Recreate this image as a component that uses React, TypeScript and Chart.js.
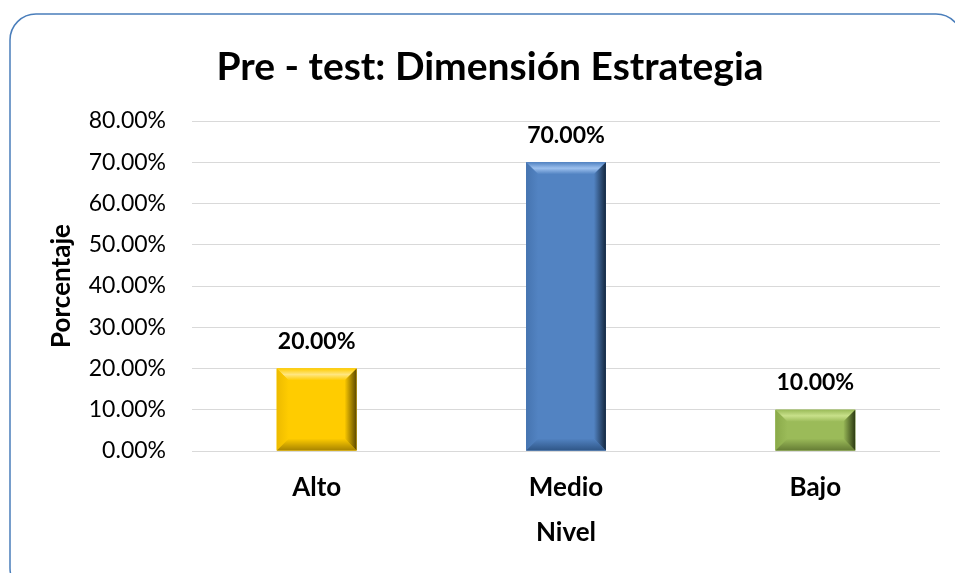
import React, { useEffect, useRef } from "react";
import { Chart, registerables } from "chart.js";

Chart.register(...registerables);

const categories = ["Alto", "Medio", "Bajo"];
const values = [20, 70, 10];
const valueLabels = ["20.00%", "70.00%", "10.00%"];
const chartTitle = "Pre - test: Dimensión Estrategia";
const xTitle = "Nivel";
const yTitle = "Porcentaje";

// face, top bevel, left bevel, right bevel dark, bottom bevel dark
const palettes = [
  { face: "#FFCC00", top: "#FFE680", left: "#EDBB00", right: "#5C4800", bottom: "#A88400" },
  { face: "#5283C2", top: "#9CC0EE", left: "#4674B0", right: "#14273F", bottom: "#2F5687" },
  { face: "#9BBB59", top: "#C8E08A", left: "#8AAA4A", right: "#2C3A12", bottom: "#667D35" },
];

const FONT = "Lato, 'Open Sans', sans-serif";

const framePlugin = {
  id: "frame",
  beforeDraw(chart: any) {
    const ctx = chart.ctx;
    ctx.save();
    ctx.strokeStyle = "#4A7EBB";
    ctx.lineWidth = 1.5;
    const x = 10, y = 14, w = 952, h = 580, r = 26;
    ctx.beginPath();
    ctx.moveTo(x + r, y);
    ctx.lineTo(x + w - r, y);
    ctx.arcTo(x + w, y, x + w, y + r, r);
    ctx.lineTo(x + w, y + h - r);
    ctx.arcTo(x + w, y + h, x + w - r, y + h, r);
    ctx.lineTo(x + r, y + h);
    ctx.arcTo(x, y + h, x, y + h - r, r);
    ctx.lineTo(x, y + r);
    ctx.arcTo(x, y, x + r, y, r);
    ctx.closePath();
    ctx.stroke();
    ctx.restore();
  },
};

const bevelPlugin = {
  id: "bevel",
  afterDatasetsDraw(chart: any) {
    const ctx = chart.ctx;
    const meta = chart.getDatasetMeta(0);
    meta.data.forEach((bar: any, i: number) => {
      const p = palettes[i];
      const { x, y, base, width } = bar.getProps(["x", "y", "base", "width"], true);
      const L = x - width / 2, R = x + width / 2, T = Math.min(y, base), B = Math.max(y, base);
      const b = Math.min(12, (B - T) / 3);
      ctx.save();
      ctx.fillStyle = p.face;
      ctx.fillRect(L, T, R - L, B - T);
      let g = ctx.createLinearGradient(0, T, 0, T + b);
      g.addColorStop(0, p.face);
      g.addColorStop(0.5, p.top);
      g.addColorStop(1, p.face);
      ctx.fillStyle = g;
      ctx.beginPath();
      ctx.moveTo(L, T); ctx.lineTo(R, T); ctx.lineTo(R - b, T + b); ctx.lineTo(L + b, T + b);
      ctx.closePath(); ctx.fill();
      g = ctx.createLinearGradient(L, 0, L + b, 0);
      g.addColorStop(0, p.left);
      g.addColorStop(1, p.face);
      ctx.fillStyle = g;
      ctx.beginPath();
      ctx.moveTo(L, T); ctx.lineTo(L + b, T + b); ctx.lineTo(L + b, B - b); ctx.lineTo(L, B);
      ctx.closePath(); ctx.fill();
      g = ctx.createLinearGradient(0, B - b, 0, B);
      g.addColorStop(0, p.face);
      g.addColorStop(1, p.bottom);
      ctx.fillStyle = g;
      ctx.beginPath();
      ctx.moveTo(L, B); ctx.lineTo(L + b, B - b); ctx.lineTo(R - b, B - b); ctx.lineTo(R, B);
      ctx.closePath(); ctx.fill();
      g = ctx.createLinearGradient(R - b, 0, R, 0);
      g.addColorStop(0, p.face);
      g.addColorStop(1, p.right);
      ctx.fillStyle = g;
      ctx.beginPath();
      ctx.moveTo(R, T); ctx.lineTo(R, B); ctx.lineTo(R - b, B - b); ctx.lineTo(R - b, T + b);
      ctx.closePath(); ctx.fill();
      ctx.restore();
    });
  },
  afterDraw(chart: any) {
    const ctx = chart.ctx;
    const meta = chart.getDatasetMeta(0);
    ctx.save();
    ctx.font = `bold 23px ${FONT}`;
    ctx.fillStyle = "#000";
    ctx.textAlign = "center";
    ctx.textBaseline = "middle";
    meta.data.forEach((bar: any, i: number) => {
      ctx.fillText(valueLabels[i], bar.x, bar.y - 27);
    });
    ctx.restore();
  },
};

export default function App() {
  const ref = useRef<HTMLCanvasElement>(null);
  useEffect(() => {
    const chart = new Chart(ref.current!, {
      type: "bar",
      data: {
        labels: categories,
        datasets: [
          {
            data: values,
            backgroundColor: palettes.map((p) => p.face),
            barPercentage: 0.32,
            categoryPercentage: 1,
          },
        ],
      },
      options: {
        animation: false,
        responsive: false,
        layout: { padding: { top: 0, left: 40, right: 15, bottom: 20 } },
        plugins: {
          legend: { display: false },
          tooltip: { enabled: false },
          title: {
            display: true,
            text: chartTitle,
            color: "#000",
            font: { family: FONT, size: 39, weight: "bold" },
            padding: { top: 43.6, bottom: 30.6 },
          },
        },
        scales: {
          x: {
            grid: { display: false },
            border: { display: false },
            ticks: { color: "#000", font: { family: FONT, size: 26, weight: "bold" }, padding: 13.4 },
            title: {
              display: true,
              text: xTitle,
              color: "#000",
              font: { family: FONT, size: 26, weight: "bold" },
              padding: { top: 0, bottom: 4.4 },
            },
            afterFit(scale: any) {
              scale.height = 102;
            },
          },
          y: {
            min: 0,
            max: 80,
            ticks: {
              stepSize: 10,
              color: "#000",
              font: { family: FONT, size: 23 },
              padding: 26,
              callback: (v: any) => Number(v).toFixed(2) + "%",
            },
            grid: { color: "#D9D9D9", lineWidth: 1, drawTicks: false },
            border: { display: false },
            title: {
              display: true,
              text: yTitle,
              color: "#000",
              font: { family: FONT, size: 26, weight: "bold" },
              padding: { top: 6.4, bottom: 0 },
            },
            afterFit(scale: any) {
              scale.width = 152;
            },
          },
        },
      },
      plugins: [framePlugin, bevelPlugin],
    });
    return () => chart.destroy();
  }, []);
  return (
    <div style={{ position: "fixed", left: 0, top: 0, width: 955, height: 573 }}>
      <canvas ref={ref} width={955} height={573} style={{ display: "block" }} />
    </div>
  );
}
